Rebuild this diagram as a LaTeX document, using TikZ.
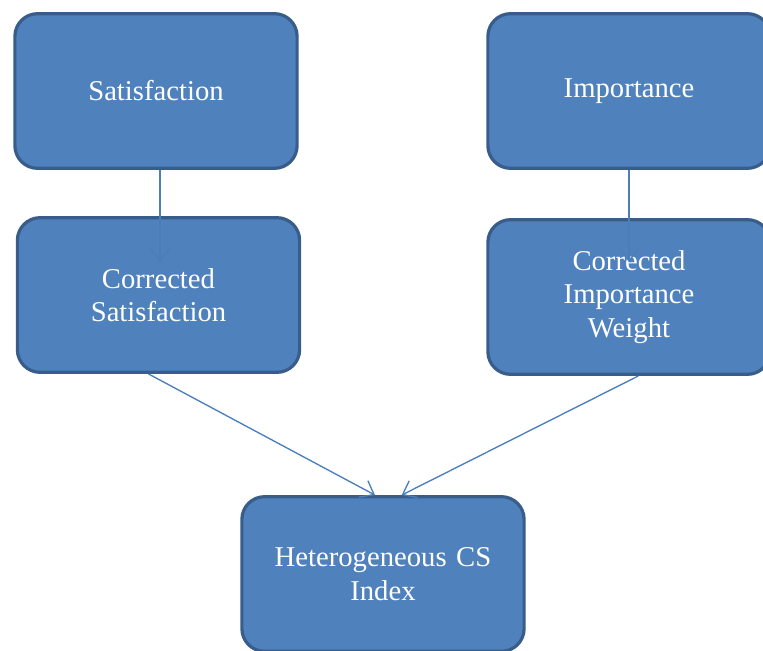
\documentclass[tikz,border=0pt]{standalone}
\usepackage{fontspec}
\setmainfont{Liberation Serif}
\usepackage{tikz}
\usetikzlibrary{arrows.meta,positioning}
\definecolor{boxfill}{HTML}{4F81BD}
\definecolor{boxline}{HTML}{385D8A}
\definecolor{linkblue}{HTML}{4A7EBB}

\begin{document}
\begin{tikzpicture}[
  x=0.75pt,y=-0.75pt,
  block/.style={draw=boxline,line width=2.4pt,rounded corners=17pt,fill=boxfill,
    text=white,minimum width=211pt,minimum height=116pt,text width=205pt,
    align=center,font=\fontsize{21.5}{25}\selectfont},
  link/.style={-{Straight Barb[length=9pt,width=14pt]},line width=1pt,color=linkblue}
]
\useasboundingbox (0,0) rectangle (763,650);
\node[block] (sat) at (156,91) {Satisfaction};
\node[block] (imp) at (629,91) {Importance};
\node[block] (csat) at (158.5,295) {Corrected\\Satisfaction};
\node[block] (cimp) at (629,297) {Corrected\\Importance\\Weight};
\node[block] (het) at (383,574) {Heterogeneous CS\\Index};
\coordinate (satend) at (160,262);
\coordinate (impend) at (629,262);
\draw[link] (sat.south -| satend) -- (satend);
\draw[link] (imp.south) -- (impend);
\draw[link] ([xshift=-7.5pt]csat.south) -- ([xshift=-6pt]het.north);
\draw[link] ([xshift=7pt]cimp.south) -- ([xshift=14pt]het.north);
\end{tikzpicture}
\end{document}
